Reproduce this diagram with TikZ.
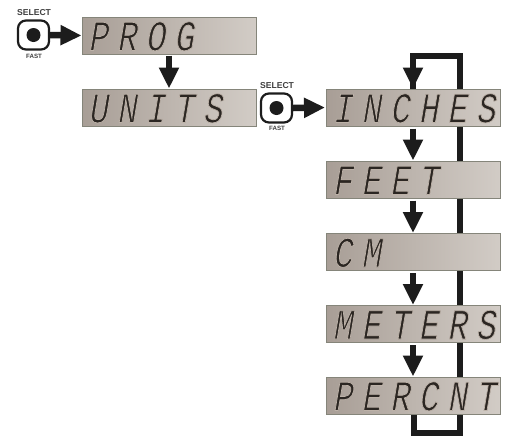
\documentclass[tikz,border=0pt]{standalone}
\usepackage{fontspec}
\setmainfont{Liberation Sans}
\newfontfamily\lcdfont[FakeSlant=0.17,FakeStretch=0.76,LetterSpace=21]{Liberation Mono}
\usetikzlibrary{arrows.meta,backgrounds}
\definecolor{lcdl}{HTML}{A89E96}
\definecolor{lcdr}{HTML}{D2CCC6}
\definecolor{lcdedge}{HTML}{85857A}
\definecolor{lcdink}{HTML}{2B2622}
\definecolor{inkk}{HTML}{1C1C1C}
\newcommand{\lcdthin}[1]{\special{pdf:code q 0.74 0.70 0.66 RG 0.7 w 2 Tr}#1\special{pdf:code 0 Tr Q}}
\tikzset{
  lcdbox/.style={draw=lcdedge,line width=1pt,left color=lcdl,right color=lcdr,
    minimum width=174pt,minimum height=37pt,inner xsep=6pt,inner ysep=0pt,
    text width=162pt,align=left,text height=30pt,text depth=0pt,text=lcdink,
    font=\lcdfont\fontsize{43pt}{43pt}\selectfont},
  btn/.style={draw=inkk,line width=2.2pt,rounded corners=8pt,fill=white,
    minimum width=31pt,minimum height=29pt,inner sep=0pt},
  dot/.style={circle,fill=inkk,minimum size=14pt,inner sep=0pt},
  cap1/.style={font=\bfseries\fontsize{8.6pt}{9pt}\selectfont,text=black!75,inner sep=0pt},
  cap2/.style={font=\bfseries\fontsize{6.2pt}{7pt}\selectfont,text=black!75,inner sep=0pt},
  flow/.style={draw=inkk,line width=6.5pt,-{Triangle[length=21pt,width=19pt,color=inkk]}},
  loopline/.style={draw=inkk,line width=6pt,line join=miter},
}
\begin{document}
\begin{tikzpicture}[x=1pt,y=-1pt]
\useasboundingbox (0,0) rectangle (506,437);
\node[lcdbox] (prog) at (169,35.5) {\lcdthin{PROG}};
\node[lcdbox] (units) at (169,107.5) {\lcdthin{UNITS}};
\node[lcdbox] (inches) at (413.5,107.5) {\lcdthin{INCHES}};
\node[lcdbox] (feet) at (413.5,179.5) {\lcdthin{FEET}};
\node[lcdbox] (cm) at (413.5,252) {\lcdthin{CM}};
\node[lcdbox] (meters) at (413.5,324) {\lcdthin{METERS}};
\node[lcdbox] (percnt) at (413.5,395.5) {\lcdthin{PERCNT}};
\node[btn] (b1) at (33.5,35) {};
\node[dot] (d1) at (b1) {};
\node[cap1] (s1) at (34,13) {SELECT};
\node[cap2] (f1) at (34,56) {FAST};
\node[btn] (b2) at (276.5,108) {};
\node[dot] (d2) at (b2) {};
\node[cap1] (s2) at (277,86) {SELECT};
\node[cap2] (f2) at (277,128.5) {FAST};
\coordinate (tl) at (413,56);
\coordinate (tr) at (459.5,56);
\coordinate (br) at (459.5,433);
\coordinate (bl) at (414,433);
\begin{scope}[on background layer]
\fill[white] (0,0) rectangle (506,437);
\draw[loopline] (percnt.south -| bl) -- (bl) -- (br) -- (tr) -- (tl) -- (tl |- inches.north);
\end{scope}
\draw[flow] (b1.east) -- (prog.west);
\draw[flow] (b2.east) -- ([xshift=-1pt]inches.west);
\draw[flow] ([yshift=-1pt]prog.south) -- (units.north);
\draw[flow] ([yshift=22pt]tl |- inches.north) -- (tl |- inches.north);
\draw[flow] ([yshift=-2pt]tl |- inches.south) -- (tl |- feet.north);
\draw[flow] ([yshift=-2pt]tl |- feet.south) -- (tl |- cm.north);
\draw[flow] ([yshift=-2pt]tl |- cm.south) -- (tl |- meters.north);
\draw[flow] ([yshift=-2pt]tl |- meters.south) -- (tl |- percnt.north);
\end{tikzpicture}
\end{document}
